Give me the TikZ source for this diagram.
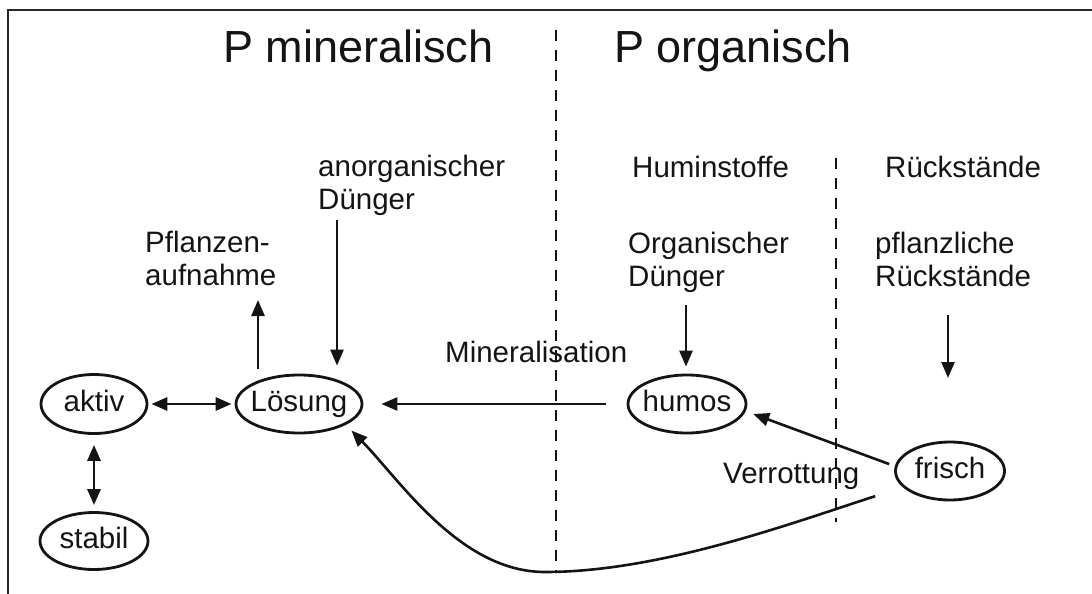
\documentclass[tikz,border=0pt]{standalone}
\usepackage{fontspec}
\setmainfont{Liberation Sans}
\usetikzlibrary{arrows.meta,shapes.geometric}
% two left-aligned lines whose first baseline is the node's baseline
\newcommand\lblpair[2]{\begin{tabular}[t]{@{}l@{}}#1\\#2\end{tabular}}

\begin{document}
\begin{tikzpicture}[x=1pt,y=-1pt,
  txt/.style={inner sep=0pt, anchor=base west, text=black!92,
    font=\fontsize{29.5}{33.5}\selectfont},
  head/.style={inner sep=0pt, anchor=base west, text=black!92,
    font=\fontsize{45}{52}\selectfont},
  oval/.style={ellipse, draw=black!92, line width=2.8pt, inner sep=0pt,
    text height=21pt, text depth=6pt, text=black!92,
    font=\fontsize{29.5}{33.5}\selectfont},
  arr/.style={draw=black!92, line width=2.6pt,
    -{Triangle[length=16pt,width=13pt]}},
  darr/.style={draw=black!92, line width=2.9pt,
    {Triangle[length=16pt,width=13pt]}-{Triangle[length=16pt,width=13pt]}},
  divider/.style={draw=black!92, line width=2.8pt, dash pattern=on 11pt off 9pt}
]
\useasboundingbox (0,0) rectangle (1092,594);

% frame (left and top edges)
\draw[draw=black!85, line width=2pt] (8,600) -- (8,10) -- (1100,10);

% dividing lines
\draw[divider] (556,30) -- (556,572);
\draw[divider] (836,158) -- (836,522);

% headings
\node[head] (hmin) at (223,63) {P mineralisch};
\node[head] (horg) at (614,63) {P organisch};
\node[txt] (humst) at (632,177) {Huminstoffe};
\node[txt] (rst) at (885,177) {Rückstände};

% labels
\node[txt] (anorg) at (318,176) {\lblpair{anorganischer}{Dünger}};
\node[txt] (pflz) at (145,252) {\lblpair{Pflanzen-}{aufnahme}};
\node[txt] (orgd) at (628,253) {\lblpair{Organischer}{Dünger}};
\node[txt] (pflr) at (875,253) {\lblpair{pflanzliche}{Rückstände}};
\node[txt] (minl) at (445,362) {Mineralisation};
\node[txt] (verr) at (723,483) {Verrottung};

% pools
\node[oval, minimum width=106pt, minimum height=59pt] (aktiv) at (94,404) {\makebox[0pt]{aktiv}};
\node[oval, minimum width=126pt, minimum height=58pt] (loesung) at (299,404) {\makebox[0pt]{Lösung}};
\node[oval, minimum width=108pt, minimum height=57pt] (stabil) at (94,541) {\makebox[0pt]{stabil}};
\node[oval, minimum width=118pt, minimum height=58pt] (humos) at (687,404) {\makebox[0pt]{humos}};
\node[oval, minimum width=109pt, minimum height=58pt] (frisch) at (950,471) {\makebox[0pt]{frisch}};

% free ends of the inputs and outputs
\coordinate (pa) at (258,300);
\coordinate (ad) at (337,220);
\coordinate (od) at (686,305);
\coordinate (pr0) at (948,315);
\coordinate (pr1) at (948,378);

% fluxes
\draw[darr, shorten <=3pt, shorten >=3pt] (aktiv) -- (loesung);
\draw[darr, shorten <=10pt, shorten >=6pt] (aktiv) -- (stabil);
\draw[arr, shorten <=5pt] (loesung.north -| pa) -- (pa);
\draw[arr, shorten >=8pt] (ad) -- (ad |- loesung.north);
\draw[arr, shorten <=21pt, shorten >=18pt] (humos.west) -- (loesung.east);
\draw[arr, shorten >=7pt] (od) -- (od |- humos.north);
\draw[arr] (pr0) -- (pr1);
\draw[arr, shorten <=6pt, shorten >=8pt] (frisch.175) -- (humos.-7);
\draw[arr, shorten <=29pt, shorten >=8pt] (frisch.199)
  .. controls (792,523) and (660,572) .. (545,572)
  .. controls (460,572) and (400,480) .. (loesung.-24);
\end{tikzpicture}
\end{document}
